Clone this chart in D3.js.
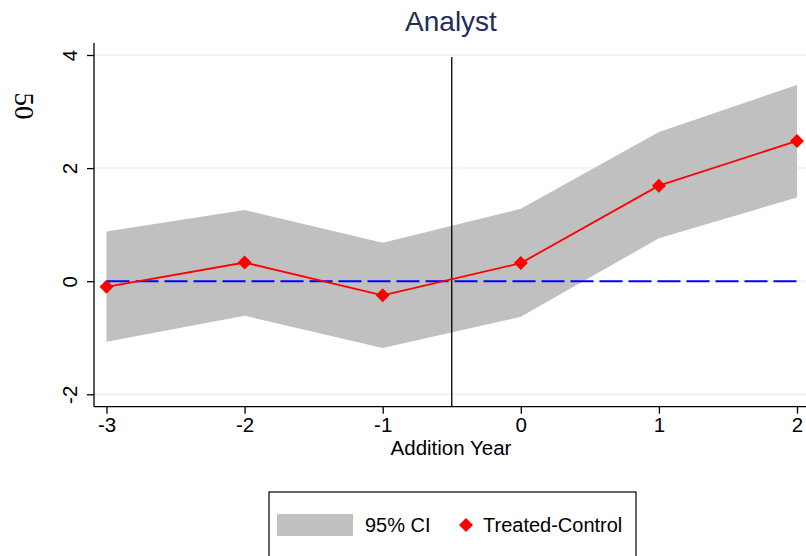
<!DOCTYPE html>
<html>
<head>
<meta charset="utf-8">
<script src="https://cdn.jsdelivr.net/npm/d3@7"></script>
<style>
  html, body { margin: 0; padding: 0; background: #ffffff; }
  svg { display: block; }
</style>
</head>
<body>
<script>
// Event-study estimates: treated minus control, by year relative to addition
const years      = [-3, -2, -1, 0, 1, 2];
const estimate   = [-0.10, 0.33, -0.25, 0.32, 1.69, 2.48];
const ciUpper    = [0.88, 1.26, 0.68, 1.28, 2.64, 3.47];
const ciLower    = [-1.07, -0.61, -1.18, -0.63, 0.76, 1.48];
const yTicks     = [-2, 0, 2, 4];
const xTicks     = [-3, -2, -1, 0, 1, 2];
const eventLine  = -0.5;
const titleText  = "Analyst";
const xTitle     = "Addition Year";
const yTitle     = "50";
const legendLabels = ["95% CI", "Treated-Control"];

const W = 806, H = 556;
const svg = d3.select("body").append("svg").attr("width", W).attr("height", H);

const x = d3.scaleLinear().domain([-3, 2]).range([106.5, 797]);
const y = d3.scaleLinear().domain([-2, 4]).range([394.3, 55]);

const plotLeft = 94, plotRight = W, plotTop = 43, plotBottom = 406.7;
const sans = "'Liberation Sans', Arial, sans-serif";

const rows = years.map((yr, i) => ({ yr, est: estimate[i], hi: ciUpper[i], lo: ciLower[i] }));

// Horizontal grid lines
svg.append("g").selectAll("line").data(yTicks).join("line")
  .attr("x1", plotLeft).attr("x2", plotRight)
  .attr("y1", d => y(d)).attr("y2", d => y(d))
  .attr("stroke", "#eaf2f3").attr("stroke-width", 1.5);

// Confidence band
svg.append("path").datum(rows)
  .attr("d", d3.area().x(d => x(d.yr)).y0(d => y(d.lo)).y1(d => y(d.hi)))
  .attr("fill", "#c0c0c0");

// Zero reference line
svg.append("line")
  .attr("x1", x(years[0])).attr("x2", x(years[years.length - 1]))
  .attr("y1", y(0)).attr("y2", y(0))
  .attr("stroke", "#0000ff").attr("stroke-width", 2)
  .attr("stroke-dasharray", "23,6");

// Event line between -1 and 0
svg.append("line")
  .attr("x1", x(eventLine)).attr("x2", x(eventLine))
  .attr("y1", y(4) + 2).attr("y2", plotBottom)
  .attr("stroke", "#000").attr("stroke-width", 1.3);

// Estimate line and markers
svg.append("path").datum(rows)
  .attr("d", d3.line().x(d => x(d.yr)).y(d => y(d.est)))
  .attr("fill", "none").attr("stroke", "#ff0000").attr("stroke-width", 1.8);

const diamond = d3.symbol().type(d3.symbolDiamond2).size(125);
svg.append("g").selectAll("path").data(rows).join("path")
  .attr("d", diamond)
  .attr("transform", d => `translate(${x(d.yr)},${y(d.est)})`)
  .attr("fill", "#ff0000");

// Axes
const yAxis = svg.append("g").attr("transform", `translate(${plotLeft},0)`)
  .call(d3.axisLeft(y).tickValues(yTicks).tickSize(7).tickFormat(d3.format("d")));
yAxis.select(".domain").attr("d", `M0,${plotTop}V${plotBottom}`).attr("stroke-width", 1.3);
yAxis.selectAll(".tick line").attr("stroke-width", 1.3);
yAxis.selectAll(".tick text")
  .attr("x", 0).attr("y", 0).attr("dy", null)
  .attr("transform", "translate(-17,0) rotate(-90)")
  .attr("text-anchor", "middle")
  .style("font-family", sans).style("font-size", "20.5px").attr("fill", "#000");

const xAxis = svg.append("g").attr("transform", `translate(0,${plotBottom})`)
  .call(d3.axisBottom(x).tickValues(xTicks).tickSize(7).tickFormat(d3.format("d")));
xAxis.select(".domain").attr("d", `M${plotLeft},0H${plotRight}`).attr("stroke-width", 1.3);
xAxis.selectAll(".tick line").attr("stroke-width", 1.3);
xAxis.selectAll(".tick text")
  .attr("y", 25).attr("dy", null)
  .style("font-family", sans).style("font-size", "20.5px").attr("fill", "#000");
svg.selectAll(".tick text").text(d => d < 0 ? "-" + Math.abs(d) : String(d));

// Titles
svg.append("text").attr("x", 451).attr("y", 31).attr("text-anchor", "middle")
  .style("font-family", sans).style("font-size", "28px").attr("fill", "#1f2d5a")
  .text(titleText);

svg.append("text").attr("x", 451).attr("y", 455).attr("text-anchor", "middle")
  .style("font-family", sans).style("font-size", "20.5px").attr("fill", "#000")
  .text(xTitle);

svg.append("text")
  .attr("transform", "translate(15,106) rotate(90)")
  .attr("text-anchor", "middle")
  .style("font-family", "'Liberation Serif', 'Times New Roman', serif").style("font-size", "27px").attr("fill", "#000")
  .text(yTitle);

// Legend
const lg = svg.append("g");
lg.append("rect").attr("x", 269).attr("y", 492).attr("width", 367).attr("height", 80)
  .attr("fill", "#fff").attr("stroke", "#000").attr("stroke-width", 1.2);
lg.append("rect").attr("x", 277).attr("y", 514).attr("width", 76).attr("height", 22).attr("fill", "#c0c0c0");
lg.append("text").attr("x", 365).attr("y", 532)
  .style("font-family", sans).style("font-size", "20px").attr("fill", "#000").text(legendLabels[0]);
lg.append("path").attr("d", diamond).attr("transform", "translate(466,525)").attr("fill", "#ff0000");
lg.append("text").attr("x", 483).attr("y", 532)
  .style("font-family", sans).style("font-size", "20px").attr("fill", "#000").text(legendLabels[1]);
</script>
</body>
</html>
